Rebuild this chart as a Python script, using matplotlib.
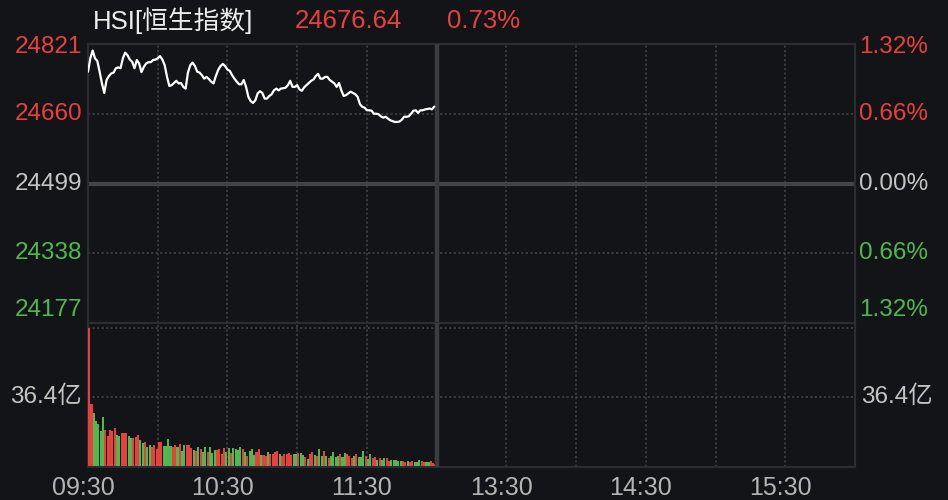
import matplotlib
matplotlib.use("Agg")
import matplotlib.pyplot as plt
import matplotlib.transforms as mtrans

plt.rcParams['font.family'] = ['Liberation Sans', 'Noto Sans CJK SC', 'DejaVu Sans']

# ---- data ----
title_name = "HSI[恒生指数]"
title_last = "24676.64"
title_pct = "0.73%"

base_price = 24499
price_levels = [24821, 24660, 24499, 24338, 24177]
pct_labels = ["1.32%", "0.66%", "0.00%", "0.66%", "1.32%"]
vol_max = 72.8          # 亿
vol_mid_label = "36.4亿"

time_ticks = [0, 60, 120, 180, 240, 300]   # minutes from 09:30 (lunch removed)
time_labels = ["09:30", "10:30", "11:30", "13:30", "14:30", "15:30"]

# one price per minute, 09:30 - 11:59
price = [
    24757, 24788, 24806, 24788, 24782, 24757, 24730, 24708, 24738, 24747,
    24753, 24755, 24765, 24767, 24765, 24788, 24801, 24795, 24785, 24780,
    24765, 24784, 24776, 24756, 24768, 24776, 24779, 24779, 24784, 24785,
    24788, 24793, 24785, 24772, 24745, 24724, 24726, 24731, 24736, 24730,
    24731, 24722, 24718, 24755, 24772, 24778, 24770, 24757, 24755, 24749,
    24741, 24745, 24740, 24734, 24730, 24747, 24761, 24770, 24775, 24770,
    24762, 24759, 24749, 24741, 24734, 24728, 24728, 24738, 24722, 24699,
    24689, 24685, 24691, 24707, 24712, 24708, 24695, 24695, 24701, 24705,
    24714, 24718, 24714, 24718, 24719, 24720, 24726, 24736, 24722, 24722,
    24726, 24716, 24713, 24721, 24726, 24731, 24736, 24739, 24747, 24752,
    24741, 24741, 24745, 24745, 24738, 24734, 24730, 24722, 24731, 24714,
    24701, 24703, 24707, 24711, 24708, 24705, 24699, 24682, 24676, 24674,
    24668, 24668, 24667, 24660, 24660, 24659, 24654, 24651, 24653, 24649,
    24645, 24643, 24641, 24641, 24642, 24646, 24653, 24653, 24654, 24660,
    24667, 24668, 24662, 24668, 24668, 24670, 24671, 24672, 24670, 24676.64,
]

# turnover per minute, 亿
volume = [
    72.8, 32.6, 28.1, 23.9, 22.2, 18.7, 26.0, 19.2, 15.6, 19.2,
    18.4, 19.8, 16.6, 15.6, 17.2, 17.2, 17.2, 15.6, 14.6, 14.6,
    15.1, 16.1, 13.5, 12.0, 12.5, 9.9, 10.9, 9.9, 10.9, 8.8,
    12.5, 12.5, 10.4, 10.4, 14.0, 10.4, 9.9, 10.9, 9.9, 11.4,
    7.8, 10.9, 10.9, 10.9, 9.4, 8.3, 7.8, 9.9, 8.8, 7.3,
    9.9, 7.3, 9.9, 6.8, 8.3, 8.3, 8.8, 6.2, 9.4, 7.3,
    9.4, 6.8, 9.4, 8.8, 8.3, 9.9, 8.8, 7.3, 5.2, 7.8,
    8.8, 5.7, 7.3, 8.8, 5.7, 5.7, 5.2, 7.3, 6.2, 6.2,
    7.3, 7.8, 6.2, 5.2, 6.2, 6.2, 6.8, 5.7, 6.2, 6.2,
    6.8, 6.8, 5.7, 4.7, 3.6, 6.2, 7.3, 5.7, 5.2, 8.8,
    5.2, 7.8, 5.2, 4.2, 5.2, 7.3, 4.7, 5.2, 6.2, 4.7,
    6.8, 6.2, 5.2, 4.2, 5.2, 6.2, 4.7, 4.7, 7.8, 5.2,
    3.6, 6.2, 4.2, 4.7, 3.1, 4.2, 3.1, 4.2, 4.2, 2.6,
    3.1, 3.1, 3.1, 2.6, 2.6, 2.6, 2.1, 2.6, 2.1, 2.6,
    2.1, 2.1, 3.1, 2.6, 2.1, 2.1, 2.1, 2.6, 1.6, 1.0,
]

# 1 = red bar (up), 0 = green bar (down)
vol_up = [
    1,
    1, 0, 0, 0, 0, 0, 1, 1, 1, 1,
    1, 0, 0, 1, 1, 1, 0, 0, 1, 1,
    1, 0, 0, 1, 0, 0, 1, 1, 1, 1,
    1, 0, 0, 0, 0, 1, 1, 0, 1, 0,
    0, 1, 1, 1, 0, 1, 0, 1, 0, 0,
    1, 0, 0, 0, 1, 1, 1, 1, 0, 0,
    1, 0, 0, 0, 0, 1, 0, 1, 0, 0,
    0, 1, 1, 0,
    1, 1, 0, 1, 1, 1, 1, 0, 1, 1,
    1, 1, 1, 0, 0, 1, 0, 0, 1, 0,
    1, 1, 0, 1, 0, 0, 1, 0, 1, 0,
    0, 0, 0, 1, 0, 0, 1, 1, 1, 0,
    1, 0, 0, 0, 1, 0, 0, 1, 1, 0,
    1, 0, 0, 1, 1, 0, 0, 0, 0, 0,
    1, 1, 0, 1, 1, 0, 0, 0, 1, 1,
    0, 0, 1, 1, 1,
]

# ---- colours ----
bg = "#131418"
red = "#e8413c"
green = "#4fb84e"
grey_txt = "#c4c4c4"
grid_c = "#3d3e42"
frame_c = "#2c2d31"
split_c = "#3b3c40"

fig = plt.figure(figsize=(9.48, 5.0), dpi=100, facecolor=bg)
W, H = 948.0, 500.0
ax_p = fig.add_axes([88 / W, 1 - 323 / H, 767 / W, 279 / H])
ax_v = fig.add_axes([88 / W, 1 - 467 / H, 767 / W, 144 / H])

dots = (0, (1.2, 1.3))
for ax in (ax_p, ax_v):
    ax.set_facecolor(bg)
    ax.set_xlim(0, 330)
    ax.set_xticks([])
    ax.set_yticks([])
    for s in ax.spines.values():
        s.set_color(frame_c)
        s.set_linewidth(1.6)
    for t in [30, 60, 90, 120, 180, 210, 240, 270, 300]:
        ax.axvline(t, color=grid_c, lw=1.3, ls=dots, zorder=1)
    ax.axvline(150, color=split_c, lw=3.2, zorder=4)

# price panel
ax_p.set_ylim(price_levels[-1], price_levels[0])
for lv in (price_levels[1], price_levels[3]):
    ax_p.axhline(lv, color=grid_c, lw=1.3, ls=dots, zorder=1)
ax_p.axhline(base_price, color="#444549", lw=3.0, zorder=2)
ax_p.plot(range(len(price)), price, color="white", lw=1.6, zorder=5,
          solid_joinstyle="round", solid_capstyle="round")

# volume panel
ax_v.set_ylim(-0.52, vol_max + 2.56)
for lv in (vol_max, vol_max / 2):
    ax_v.axhline(lv, color=grid_c, lw=1.3, ls=dots, zorder=1)
bar_cols = [red if u else green for u in vol_up]
ax_v.bar([i + 0.5 for i in range(len(volume))], volume, width=0.88,
         color=bar_cols, linewidth=0, zorder=3)

# left / right price labels
lab_cols = [red, red, grey_txt, green, green]
tr_l = mtrans.blended_transform_factory(fig.transFigure, ax_p.transData)
shift = [3, 0, 0, 0, -13]   # px nudges for edge labels
for lv, pl, c, dy in zip(price_levels, pct_labels, lab_cols, shift):
    off = mtrans.ScaledTranslation(0, -dy / 100, fig.dpi_scale_trans)
    fig.text(82 / W, lv, str(lv), transform=tr_l + off, ha="right", va="center",
             color=c, fontsize=17.5)
    fig.text(859 / W, lv, pl, transform=tr_l + off, ha="left", va="center",
             color=c, fontsize=17.5)

tr_v = mtrans.blended_transform_factory(fig.transFigure, ax_v.transData)
fig.text(82 / W, vol_max / 2, vol_mid_label, transform=tr_v, ha="right",
         va="center", color=grey_txt, fontsize=17.5)
fig.text(861 / W, vol_max / 2, vol_mid_label, transform=tr_v, ha="left",
         va="center", color=grey_txt, fontsize=17.5)

# time labels
tr_x = mtrans.blended_transform_factory(ax_v.transData, fig.transFigure)
off_x = mtrans.ScaledTranslation(-5 / 100, 0, fig.dpi_scale_trans)
for t, lab in zip(time_ticks, time_labels):
    fig.text(t, 1 - 488 / H, lab, transform=tr_x + off_x, ha="center",
             va="center", color="#b4b4b4", fontsize=18)

# header
fig.text(93 / W, 1 - 21 / H, title_name, ha="left", va="center",
         color="#ededed", fontsize=18.5)
fig.text(295 / W, 1 - 21 / H, title_last, ha="left", va="center",
         color=red, fontsize=18.5)
fig.text(447 / W, 1 - 21 / H, title_pct, ha="left", va="center",
         color=red, fontsize=18.5)

fig.savefig("out.png", dpi=100, facecolor=bg)
